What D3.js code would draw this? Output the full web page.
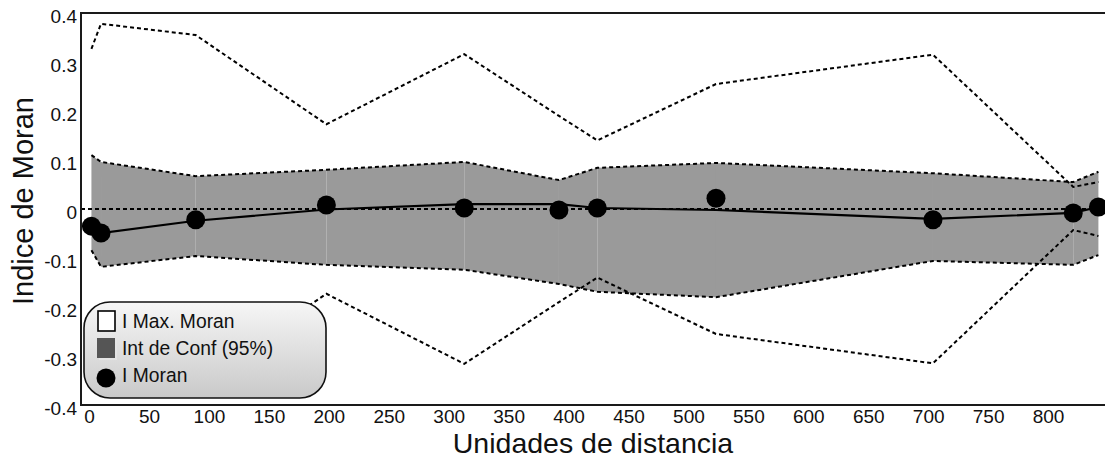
<!DOCTYPE html>
<html>
<head>
<meta charset="utf-8">
<script src="https://cdn.jsdelivr.net/npm/d3@7"></script>
<style>
  html, body { margin: 0; padding: 0; background: #fff; }
  svg { display: block; font-family: "Liberation Sans", Arial, sans-serif; }
</style>
</head>
<body>
<svg id="chart" width="1105" height="463"></svg>
<script>
// Distance classes and Moran's I correlogram values
const distancias = [2, 10, 89, 198, 313, 392, 424, 523, 704, 821, 842];
const moranI     = [-0.035, -0.049, -0.022, 0.008, 0.002, -0.002, 0.002, 0.022, -0.022, -0.008, 0.004];
const tendencia  = [-0.035, -0.049, -0.024, -0.001, 0.010, 0.010, 0.002, -0.002, -0.020, -0.008, 0.004];
// 95% confidence interval
const icSup = [0.110, 0.096, 0.067, 0.080, 0.096, 0.059, 0.084, 0.094, 0.073, 0.055, 0.076];
const icInf = [-0.084, -0.118, -0.096, -0.114, -0.124, -0.153, -0.169, -0.180, -0.106, -0.114, -0.094];
// Maximum attainable Moran's I
const maxSup = [0.327, 0.378, 0.355, 0.173, 0.316, 0.190, 0.140, 0.255, 0.315, 0.045, 0.055];
const maxInf = [-0.327, -0.378, -0.355, -0.173, -0.316, -0.190, -0.140, -0.255, -0.315, -0.043, -0.055];

const xTicks = [0, 50, 100, 150, 200, 250, 300, 350, 400, 450, 500, 550, 600, 650, 700, 750, 800];
const yTicks = [-0.4, -0.3, -0.2, -0.1, 0, 0.1, 0.2, 0.3, 0.4];
const yTickLabels = ["-0.4", "-0.3", "-0.2", "-0.1", "0", "0.1", "0.2", "0.3", "0.4"];
const leyenda = ["I Max. Moran", "Int de Conf (95%)", "I Moran"];

const svg = d3.select("#chart");
const mLeft = 81, mRight = 1105, mTop = 13, mBottom = 405;

const x = d3.scaleLinear().domain([-6.7, 847.5]).range([mLeft, mRight]);
const y = d3.scaleLinear().domain([-0.4, 0.4]).range([mBottom, mTop]);

// Confidence band, drawn one segment at a time
const bandArea = d3.area()
  .x(d => x(d.d)).y0(d => y(d.lo)).y1(d => y(d.hi));
const band = distancias.map((d, i) => ({ d, lo: icInf[i], hi: icSup[i] }));
const bandG = svg.append("g");
for (let i = 0; i < band.length - 1; i++) {
  bandG.append("path")
    .attr("d", bandArea([band[i], band[i + 1]]))
    .attr("fill", "#9a9a9a");
}

const seriesLine = (vals) => d3.line().x((d, i) => x(distancias[i])).y(d => y(d))(vals);
const dashStyle = sel => sel.attr("fill", "none").attr("stroke", "#000")
  .attr("stroke-width", 2).attr("stroke-dasharray", "4,3");

// Band edges
svg.append("path").attr("d", seriesLine(icSup)).call(dashStyle);
svg.append("path").attr("d", seriesLine(icInf)).call(dashStyle);

// Zero reference
svg.append("line")
  .attr("x1", mLeft).attr("x2", mRight)
  .attr("y1", y(0)).attr("y2", y(0))
  .attr("stroke", "#000").attr("stroke-width", 1.8).attr("stroke-dasharray", "4,3");

// Maximum Moran's I envelope
svg.append("path").attr("d", seriesLine(maxSup)).call(dashStyle);
svg.append("path").attr("d", seriesLine(maxInf)).call(dashStyle);

// Trend line and Moran's I points
svg.append("path")
  .attr("d", seriesLine(tendencia))
  .attr("fill", "none").attr("stroke", "#000").attr("stroke-width", 2.2);

svg.append("g").selectAll("circle")
  .data(distancias)
  .join("circle")
  .attr("cx", d => x(d))
  .attr("cy", (d, i) => y(moranI[i]))
  .attr("r", 9.5)
  .attr("fill", "#000");

// Frame lines
const frame = svg.append("g").attr("stroke", "#1a1a1a").attr("stroke-width", 2);
frame.append("line").attr("x1", mLeft).attr("x2", mRight).attr("y1", mTop).attr("y2", mTop);
frame.append("line").attr("x1", mLeft).attr("x2", mRight).attr("y1", mBottom).attr("y2", mBottom);
frame.append("line").attr("x1", mLeft).attr("x2", mLeft).attr("y1", mTop - 1).attr("y2", mBottom + 1);

// Axes (labels only)
const yAxis = d3.axisLeft(y).tickValues(yTicks)
  .tickFormat((d, i) => yTickLabels[i]).tickSize(0).tickPadding(4);
svg.append("g").attr("transform", `translate(${mLeft},0)`).call(yAxis)
  .call(g => g.select(".domain").remove())
  .call(g => g.selectAll("text").attr("font-size", 19).attr("fill", "#111")
    .attr("font-family", "Liberation Sans, Arial, sans-serif").attr("dy", "0.5em"));

const xAxis = d3.axisBottom(x).tickValues(xTicks).tickSize(0).tickPadding(5);
svg.append("g").attr("transform", `translate(0,${mBottom})`).call(xAxis)
  .call(g => g.select(".domain").remove())
  .call(g => g.selectAll("text").attr("font-size", 19).attr("fill", "#111")
    .attr("font-family", "Liberation Sans, Arial, sans-serif"));

// Axis titles
svg.append("text")
  .attr("x", 593).attr("y", 453)
  .attr("text-anchor", "middle")
  .attr("font-size", 28.5).attr("fill", "#111")
  .text("Unidades de distancia");

svg.append("text")
  .attr("transform", "translate(33,201) rotate(-90)")
  .attr("text-anchor", "middle")
  .attr("font-size", 29).attr("fill", "#111")
  .text("Indice de Moran");

// Legend
const defs = svg.append("defs");
const grad = defs.append("linearGradient").attr("id", "legGrad")
  .attr("x1", 0).attr("y1", 0).attr("x2", 0).attr("y2", 1);
grad.append("stop").attr("offset", "0%").attr("stop-color", "#f6f6f6");
grad.append("stop").attr("offset", "100%").attr("stop-color", "#c9c9c9");

const leg = svg.append("g");
leg.append("rect")
  .attr("x", 84).attr("y", 302).attr("width", 242).attr("height", 96)
  .attr("rx", 26).attr("ry", 26)
  .attr("fill", "url(#legGrad)").attr("stroke", "#111").attr("stroke-width", 1.6);

const rowY = [321, 348, 375];
leg.append("rect").attr("x", 98).attr("y", rowY[0] - 10).attr("width", 17).attr("height", 20)
  .attr("fill", "#fff").attr("stroke", "#000").attr("stroke-width", 1.6);
leg.append("rect").attr("x", 99).attr("y", rowY[1] - 8).attr("width", 18).attr("height", 20)
  .attr("fill", "#e6e6e6").attr("opacity", 0.8);
leg.append("rect").attr("x", 97).attr("y", rowY[1] - 10).attr("width", 18).attr("height", 20)
  .attr("fill", "#555");
leg.append("circle").attr("cx", 106).attr("cy", rowY[2] + 3).attr("r", 9.5).attr("fill", "#000");

leg.selectAll("text.item")
  .data(leyenda)
  .join("text")
  .attr("class", "item")
  .attr("x", 122)
  .attr("y", (d, i) => rowY[i])
  .attr("dy", "0.35em")
  .attr("font-size", 19.3).attr("fill", "#111")
  .text(d => d);
</script>
</body>
</html>
